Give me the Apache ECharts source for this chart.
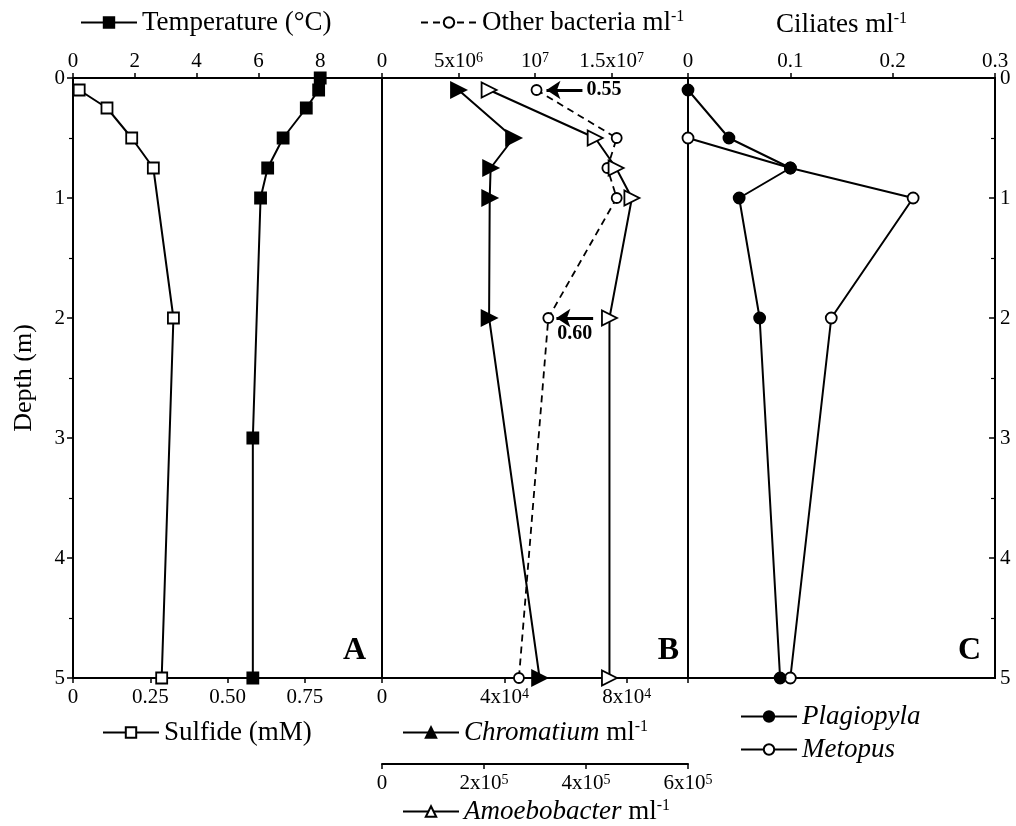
<!DOCTYPE html>
<html>
<head>
<meta charset="utf-8">
<script src="https://cdn.jsdelivr.net/npm/echarts@6/dist/echarts.min.js"></script>
<style>
html, body { margin: 0; padding: 0; background: #fff; }
#chart { width: 1016px; height: 826px; }
</style>
</head>
<body>
<div id="chart"></div>
<script>
// --- panel A: temperature and sulfide vs depth (m)
var tempDepth = [0, 0.1, 0.25, 0.5, 0.75, 1, 3, 5];
var tempValue = [8.0, 7.95, 7.55, 6.8, 6.3, 6.07, 5.82, 5.82];
var sulfDepth = [0.1, 0.25, 0.5, 0.75, 2, 5];
var sulfValue = [0.02, 0.11, 0.19, 0.26, 0.325, 0.287];

// --- panel B: bacteria ml-1
var bactDepth = [0.1, 0.5, 0.75, 1, 2, 5];
var otherValue = [1.01e7, 1.534e7, 1.473e7, 1.534e7, 1.087e7, 0.895e7];
var chromValue = [2.5e4, 4.3e4, 3.55e4, 3.52e4, 3.5e4, 5.15e4];
var amoebValue = [2.1e5, 4.18e5, 4.59e5, 4.9e5, 4.46e5, 4.46e5];

// arrows on the other bacteria profile
var noteDepth = [0.1, 2];
var noteFrom = [1.31e7, 1.38e7];
var noteTo = [1.075e7, 1.14e7];
var noteText = ['0.55', '0.60'];

// --- panel C: ciliates ml-1
var plagDepth = [0.1, 0.5, 0.75, 1, 2, 5];
var plagValue = [0, 0.04, 0.1, 0.05, 0.07, 0.09];
var metoDepth = [0.5, 0.75, 1, 2, 5];
var metoValue = [0, 0.1, 0.22, 0.14, 0.1];

// tick labels
var depthTicks = ['0', '1', '2', '3', '4', '5'];
var tempTicks = ['0', '2', '4', '6', '8'];
var sulfTicks = ['0', '0.25', '0.50', '0.75'];
var otherTicks = ['0', '5x10{sup|6}', '10{sup|7}', '1.5x10{sup|7}'];
var chromTicks = ['0', '4x10{sup|4}', '8x10{sup|4}'];
var amoebTicks = ['0', '2x10{sup|5}', '4x10{sup|5}', '6x10{sup|5}'];
var cilTicks = ['0', '0.1', '0.2', '0.3'];

var F = '"Liberation Serif", "Times New Roman", serif';
var BLACK = '#000';

function pairs(xs, ys) {
  return xs.map(function (x, i) { return [x, ys[i]]; });
}

function tickFmt(labels, step) {
  return function (v) {
    var i = Math.round(v / step);
    return labels[i] !== undefined ? labels[i] : '';
  };
}

var supRich = {
  sup: { fontSize: 14, fontFamily: F, color: BLACK, verticalAlign: 'top', lineHeight: 14 }
};

function xAx(grid, pos, max, step, labels, extra) {
  var ax = {
    type: 'value', gridIndex: grid, position: pos, min: 0, max: max, interval: step,
    axisLine: { show: true, onZero: false, lineStyle: { color: BLACK, width: 2 } },
    axisTick: { show: true, length: 5, lineStyle: { color: BLACK, width: 1.5 } },
    axisLabel: { show: true, fontSize: 21, fontFamily: F, color: BLACK, margin: pos === 'top' ? 6 : 9,
      formatter: tickFmt(labels, step), rich: supRich, showMaxLabel: labels.length * step > max },
    splitLine: { show: false }
  };
  if (extra) for (var k in extra) ax[k] = extra[k];
  return ax;
}

function yAx(grid, pos, show) {
  return {
    type: 'value', gridIndex: grid, position: pos, inverse: true, min: 0, max: 5, interval: 1,
    axisLine: { show: true, onZero: false, lineStyle: { color: BLACK, width: 2 } },
    axisTick: { show: show, inside: pos === 'right', length: 6, lineStyle: { color: BLACK, width: 1.5 } },
    minorTick: { show: show, splitNumber: 2, length: 4, lineStyle: { color: BLACK, width: 1.2 } },
    axisLabel: { show: show, fontSize: 21, fontFamily: F, color: BLACK, margin: pos === 'right' ? 5 : 8,
      formatter: tickFmt(depthTicks, 1) },
    splitLine: { show: false }
  };
}

var legendText = {
  'Temperature (°C)': 'Temperature (°C)',
  'Sulfide (mM)': 'Sulfide (mM)',
  'Other bacteria': 'Other bacteria ml{sup|-1}',
  'Chromatium': '{i|Chromatium} ml{sup|-1}',
  'Amoebobacter': '{i|Amoebobacter} ml{sup|-1}',
  'Plagiopyla': '{i|Plagiopyla}',
  'Metopus': '{i|Metopus}'
};

function legendAt(names, left, top, extra) {
  var lg = {
    data: names, left: left, top: top, orient: 'vertical', itemGap: 8,
    itemWidth: 56, itemHeight: 13, padding: 0, symbolRotate: 0, selectedMode: false,
    formatter: function (n) { return legendText[n]; },
    textStyle: { fontSize: 27, fontFamily: F, color: BLACK,
      rich: {
        i: { fontSize: 27, fontFamily: F, fontStyle: 'italic', color: BLACK },
        sup: { fontSize: 16, fontFamily: F, color: BLACK, verticalAlign: 'top', lineHeight: 16 }
      } }
  };
  if (extra) for (var k in extra) lg[k] = extra[k];
  return lg;
}

function lineSeries(name, xi, yi, data, sym, size, filled, extra) {
  var s = {
    name: name, type: 'line', xAxisIndex: xi, yAxisIndex: yi, data: data,
    symbol: sym, symbolSize: size, showAllSymbol: true, z: 3,
    lineStyle: { color: BLACK, width: 2 },
    itemStyle: { color: filled ? BLACK : '#fff', borderColor: BLACK, borderWidth: 1.8 },
    emphasis: { disabled: true }
  };
  if (extra) for (var k in extra) s[k] = extra[k];
  return s;
}

var arrowLines = noteDepth.map(function (d, i) {
  return [
    { coord: [noteFrom[i], d],
      label: { show: true, formatter: noteText[i], position: i === 0 ? 'start' : 'insideMiddleBottom',
        distance: i === 0 ? 4 : 6, fontSize: 20, fontWeight: 'bold', fontFamily: F, color: BLACK } },
    { coord: [noteTo[i], d] }
  ];
});

var chart = echarts.init(document.getElementById('chart'));
chart.setOption({
  animation: false,
  backgroundColor: '#fff',
  grid: [
    { left: 73, top: 78, width: 309, height: 600, show: true, borderColor: BLACK, borderWidth: 2, outerBoundsMode: 'none' },
    { left: 382, top: 78, width: 306, height: 600, show: true, borderColor: BLACK, borderWidth: 2, outerBoundsMode: 'none' },
    { left: 688, top: 78, width: 307, height: 600, show: true, borderColor: BLACK, borderWidth: 2, outerBoundsMode: 'none' }
  ],
  xAxis: [
    xAx(0, 'top', 10, 2, tempTicks),
    xAx(0, 'bottom', 1, 0.25, sulfTicks),
    xAx(1, 'top', 2e7, 5e6, otherTicks),
    xAx(1, 'bottom', 1e5, 4e4, chromTicks),
    xAx(1, 'bottom', 6e5, 2e5, amoebTicks, { offset: 86 }),
    xAx(2, 'top', 0.3, 0.1, cilTicks, {
      name: 'Ciliates ml{sup|-1}', nameLocation: 'middle', nameGap: 40,
      nameTextStyle: { fontSize: 27, fontFamily: F, color: BLACK,
        rich: { sup: { fontSize: 16, fontFamily: F, color: BLACK, verticalAlign: 'top', lineHeight: 16 } } }
    })
  ],
  yAxis: [
    (function () {
      var y = yAx(0, 'left', true);
      y.name = 'Depth (m)';
      y.nameLocation = 'middle';
      y.nameGap = 36;
      y.nameTextStyle = { fontSize: 26, fontFamily: F, color: BLACK };
      return y;
    })(),
    yAx(1, 'left', false),
    yAx(2, 'right', true)
  ],
  legend: [
    legendAt(['Temperature (°C)'], 80, 9),
    legendAt(['Other bacteria'], 420, 9),
    legendAt(['Sulfide (mM)'], 102, 719),
    legendAt(['Chromatium'], 402, 719),
    legendAt(['Amoebobacter'], 402, 798),
    legendAt(['Plagiopyla', 'Metopus'], 740, 703, { itemGap: 6 })
  ],
  graphic: [
    { type: 'text', x: 366, y: 667, style: { text: 'A', fontSize: 32, fontWeight: 'bold', fontFamily: F, fill: BLACK, align: 'right', verticalAlign: 'bottom' } },
    { type: 'text', x: 679, y: 667, style: { text: 'B', fontSize: 32, fontWeight: 'bold', fontFamily: F, fill: BLACK, align: 'right', verticalAlign: 'bottom' } },
    { type: 'text', x: 981, y: 667, style: { text: 'C', fontSize: 32, fontWeight: 'bold', fontFamily: F, fill: BLACK, align: 'right', verticalAlign: 'bottom' } }
  ],
  series: [
    lineSeries('Temperature (°C)', 0, 0, pairs(tempValue, tempDepth), 'rect', 11, true),
    lineSeries('Sulfide (mM)', 1, 0, pairs(sulfValue, sulfDepth), 'rect', 11, false),
    lineSeries('Other bacteria', 2, 1, pairs(otherValue, bactDepth), 'circle', 10, false, {
      lineStyle: { color: BLACK, width: 1.8, type: [7, 5] },
      markLine: {
        silent: true, animation: false, symbol: ['none', 'arrow'], symbolSize: 14,
        lineStyle: { color: BLACK, width: 3, type: 'solid' },
        itemStyle: { color: BLACK },
        data: arrowLines
      }
    }),
    lineSeries('Chromatium', 3, 1, pairs(chromValue, bactDepth), 'triangle', 15, true, { symbolRotate: -90 }),
    lineSeries('Amoebobacter', 4, 1, pairs(amoebValue, bactDepth), 'triangle', 15, false, { symbolRotate: -90 }),
    lineSeries('Metopus', 5, 2, pairs(metoValue, metoDepth), 'circle', 11, false),
    lineSeries('Plagiopyla', 5, 2, pairs(plagValue, plagDepth), 'circle', 11, true)
  ]
});
</script>
</body>
</html>
